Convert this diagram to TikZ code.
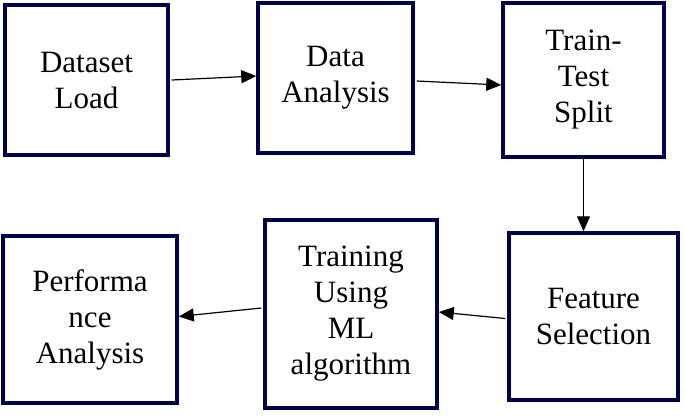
\documentclass[tikz,border=0pt]{standalone}
\usepackage{fontspec}
\setmainfont{Liberation Serif}
\usetikzlibrary{arrows.meta}
\begin{document}
\begin{tikzpicture}[x=1pt,y=-1pt]
\tikzset{stage/.style={draw=blue!30!black,line width=3.5pt,align=center,inner sep=0pt,
  font=\fontsize{31}{36}\selectfont},
  flow/.style={-{Triangle[length=15pt,width=13pt]},line width=1.2pt}}
\useasboundingbox (0,0) rectangle (685,416);
\node [stage,minimum width=163pt,minimum height=150pt] (load) at (86.5,80) {Dataset\\Load};
\node [stage,minimum width=155pt,minimum height=150pt] (analysis) at (335.5,78) {Data\\Analysis};
\node [stage,minimum width=161pt,minimum height=154pt] (split) at (583.5,80) {Train-\\Test\\Split};
\node [stage,minimum width=169pt,minimum height=167pt] (select) at (593.5,316.5) {Feature\\Selection};
\node [stage,minimum width=172pt,minimum height=188pt] (train) at (351,314) {Training\\Using\\ML\\algorithm};
\node [stage,minimum width=174pt,minimum height=167pt] (perf) at (90,319.5) {Performa\\nce\\Analysis};
\draw [flow] ([xshift=2pt]load.east) -- ([yshift=2pt]analysis.west);
\draw [flow] ([xshift=2pt,yshift=-3pt]analysis.east) -- ([yshift=-5pt]split.west);
\draw [flow] ([yshift=2pt]split.south) -- (select.north -| split.south);
\draw [flow] ([xshift=-2pt,yshift=-2pt]select.west) -- ([yshift=2pt]train.east);
\draw [flow] ([xshift=-2pt,yshift=6pt]train.west) -- ([yshift=3pt]perf.east);
\end{tikzpicture}
\end{document}
